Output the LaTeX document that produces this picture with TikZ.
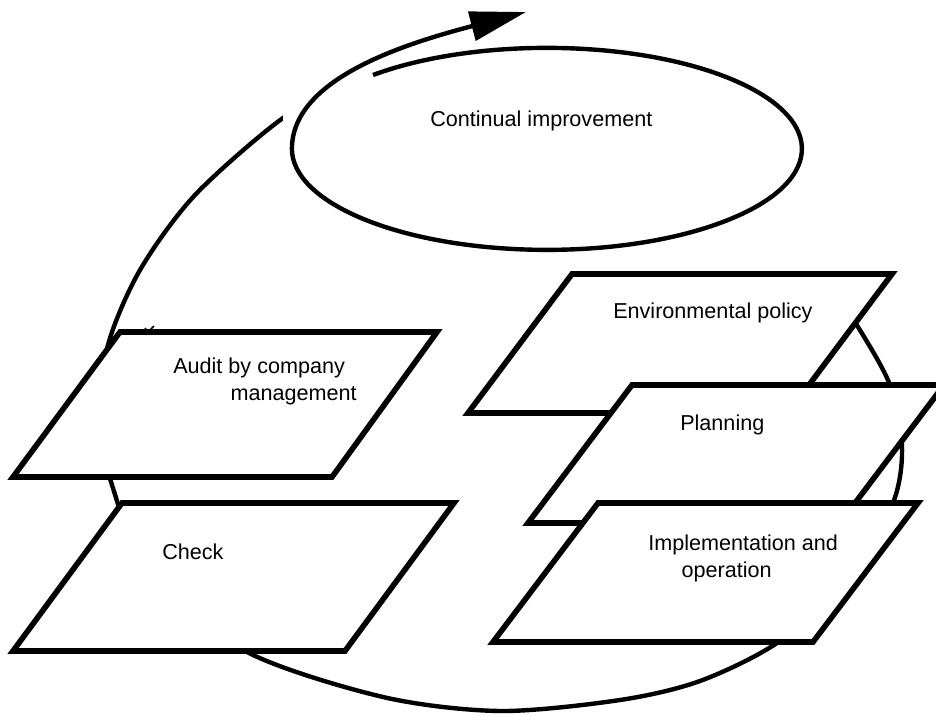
\documentclass[tikz,border=0pt]{standalone}
\usepackage{fontspec}
\setmainfont{Liberation Sans}
\usetikzlibrary{arrows.meta}

\begin{document}
\begin{tikzpicture}[x=0.75pt,y=0.75pt,yscale=-1,xscale=1,
  pgram/.style={draw, line width=4.2pt, fill=white, line join=miter},
  loopline/.style={line width=3.3pt},
  lbl/.style={inner sep=0pt, anchor=base west, align=left, font=\fontsize{16.2}{20.2}\selectfont}]
\useasboundingbox (0,0) rectangle (936,715);

%Shape: Closed Curve (the big cycle)
\draw [loopline] plot [smooth cycle] coordinates {(283,118) (195,195) (140,270) (108,345) (100,420) (112,485) (150,575) (247,652) (383,697) (500,711) (620,700) (700,681) (777,643) (850,580) (893,503) (902,447) (890,385) (855,322) (815,262) (720,170) (600,95) (450,70) (350,85)};
%Shape: Rectangle (white ground behind the loop)
\fill [white] (283,0) rectangle (830,272);
%Shape: Ellipse, open, running out into the arrow
\draw [loopline, -{Triangle[length=42pt,width=22pt]}] (373,75) arc [start angle=227, end angle=540, x radius=255, y radius=101] .. controls (292,80) and (400,45) .. (526,12);
%Straight Lines
\draw [line width=1.2pt] (145,328) -- (148,332) -- (154,326);

%Shape: Parallelogram
\draw [pgram] (120,332) -- (437,332) -- (332,477) -- (13,477) -- cycle;
%Shape: Parallelogram
\draw [pgram] (122,503) -- (454,503) -- (345,651) -- (13,651) -- cycle;
%Shape: Parallelogram
\draw [pgram] (572,274) -- (892,274) -- (788,413) -- (468,413) -- cycle;
%Shape: Parallelogram
\draw [pgram] (632,385) -- (944,385) -- (840,523) -- (528,523) -- cycle;
%Shape: Parallelogram
\draw [pgram] (598,503) -- (918,503) -- (813,642) -- (493,642) -- cycle;

% Text Node
\draw (430,126) node (impr) [lbl] {Continual improvement};
% Text Node
\draw (173,400) node (audit) [lbl] {Audit by company\\\hspace*{43pt}management};
% Text Node
\draw (162,559) node (check) [lbl] {Check};
% Text Node
\draw (613,318) node (envpol) [lbl] {Environmental policy};
% Text Node
\draw (680,430) node (plan) [lbl] {Planning};
% Text Node
\draw (648,577) node (impl) [lbl] {Implementation and\\\hspace*{25pt}operation};

\end{tikzpicture}
\end{document}
